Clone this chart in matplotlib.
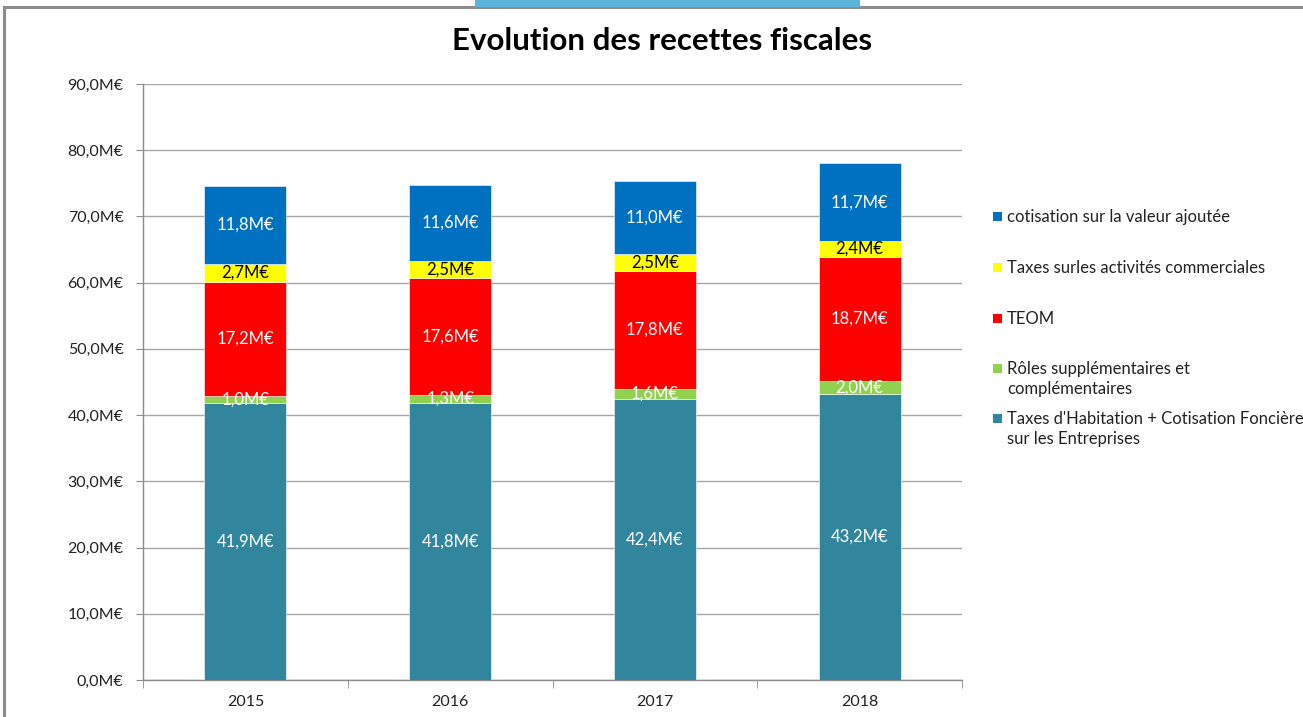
import matplotlib
matplotlib.use("Agg")
import matplotlib.pyplot as plt
from matplotlib.patches import Rectangle
import numpy as np

years = ["2015", "2016", "2017", "2018"]
taxes_hab = [41.9, 41.8, 42.4, 43.2]
roles = [1.0, 1.3, 1.6, 2.0]
teom = [17.2, 17.6, 17.8, 18.7]
tascom = [2.7, 2.5, 2.5, 2.4]
cvae = [11.8, 11.6, 11.0, 11.7]

series = [
    ("Taxes d'Habitation + Cotisation Foncière\nsur les Entreprises", taxes_hab, "#31859C", "white"),
    ("Rôles supplémentaires et\ncomplémentaires", roles, "#92D050", "white"),
    ("TEOM", teom, "#FF0000", "white"),
    ("Taxes surles activités commerciales", tascom, "#FFFF00", "black"),
    ("cotisation sur la valeur ajoutée", cvae, "#0070C0", "white"),
]
yticks = [0, 10, 20, 30, 40, 50, 60, 70, 80, 90]

FONT = "Lato"
plt.rcParams["font.family"] = [FONT, "DejaVu Sans"]

fig = plt.figure(figsize=(13.03, 7.17), dpi=100)
W, H = 1303, 717

# outer frame and top accent
fig.patches.append(Rectangle((4 / W, -0.2), 1.2, 1.2 - 7 / H, transform=fig.transFigure,
                             fill=False, edgecolor="#8C8C8C", linewidth=2.2, zorder=0))
fig.patches.append(Rectangle((475 / W, 1 - 7 / H), 385 / W, 7 / H, transform=fig.transFigure,
                             facecolor="#5BB5DB", edgecolor="none", zorder=1))

ax = fig.add_axes([143 / W, 1 - 680 / H, (962 - 143) / W, (680 - 84) / H])
x = np.arange(len(years))
bottom = np.zeros(len(years))
for name, vals, col, tcol in series:
    v = np.array(vals)
    bars = ax.bar(x, v, 0.4, bottom=bottom, color=col, edgecolor="white",
                  linewidth=0.4, label=name, zorder=3)
    ax.bar_label(bars, labels=[f"{val:.1f}".replace(".", ",") + "M€" for val in v],
                 label_type="center", color=tcol, fontsize=12, zorder=4)
    bottom += v

ax.set_xlim(-0.5, len(years) - 0.5)
ax.set_ylim(0, 90)
ax.set_yticks(yticks)
ax.set_yticklabels([f"{t:.1f}".replace(".", ",") + "M€" for t in yticks], fontsize=11.5, color="#222222")
ax.set_xticks(x)
ax.set_xticklabels(years, fontsize=11.5, color="#222222")
ax.set_xticks(np.arange(-0.5, len(years), 1.0), minor=True)
ax.tick_params(axis="x", which="major", length=0, pad=11)
ax.tick_params(axis="x", which="minor", length=6, color="#8C8C8C", direction="out")
ax.tick_params(axis="y", length=5, color="#8C8C8C", direction="out", pad=9)
ax.grid(axis="y", color="#A6A6A6", linewidth=1.0, zorder=0)
ax.set_axisbelow(True)
for s in ["top", "right"]:
    ax.spines[s].set_visible(False)
for s in ["left", "bottom"]:
    ax.spines[s].set_color("#8C8C8C")
    ax.spines[s].set_linewidth(1.0)

fig.text(662 / W, 1 - 41 / H, "Evolution des recettes fiscales", ha="center", va="center",
         fontsize=22.5, fontweight="bold", color="black")

# legend (top-down order reversed from stacking)
leg_y = [216, 267, 318, 368, 418]
for (name, vals, col, tcol), yy in zip(series[::-1], leg_y):
    fig.patches.append(Rectangle((993 / W, 1 - (yy + 4.5) / H), 9 / W, 9 / H,
                                 transform=fig.transFigure, facecolor=col, edgecolor="none"))
    fig.text(1007 / W, 1 - (yy - 7) / H, name, ha="left", va="top", fontsize=12,
             color="#222222", linespacing=1.3)

fig.savefig("out.png", dpi=100)
